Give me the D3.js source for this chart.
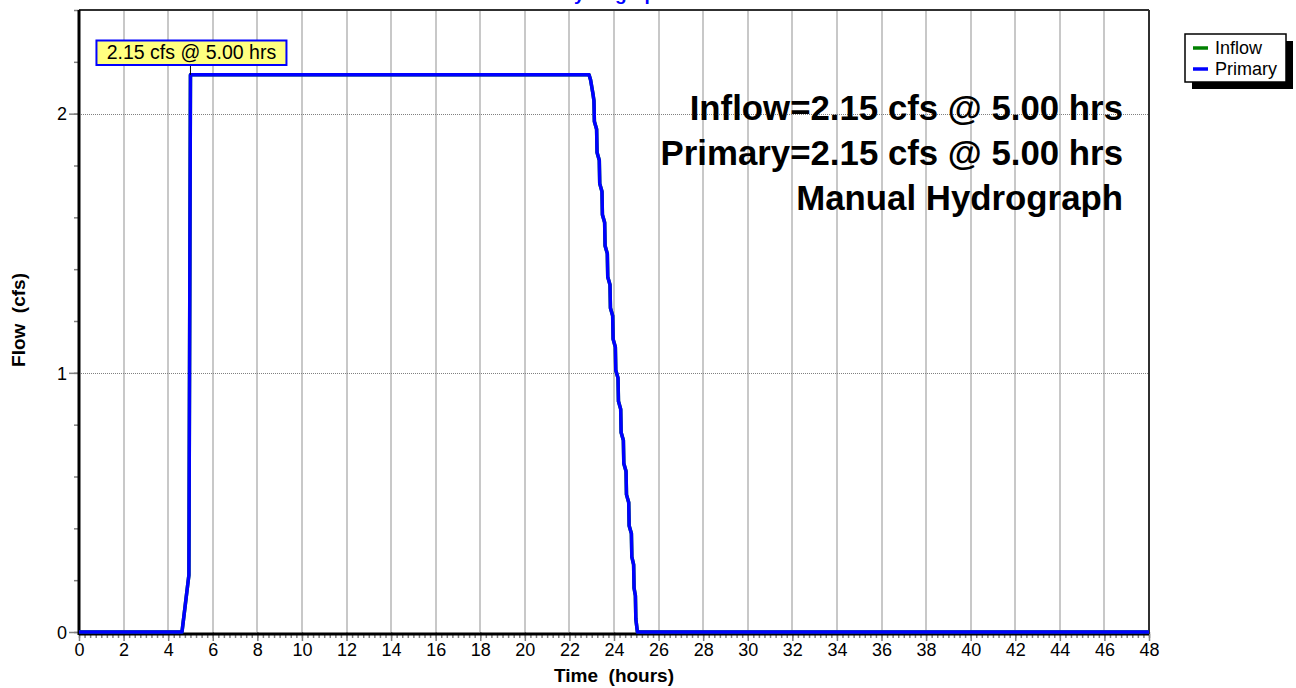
<!DOCTYPE html>
<html lang="en">

<head>
    <meta charset="UTF-8">
    <title>Hydrograph</title>
    <script src="https://d3js.org/d3.v7.min.js"></script>
    <style>
        body {
            margin: 0;
            background: #fff;
        }

        svg text {
            font-family: "Liberation Sans", Arial, sans-serif;
        }

        .grid-x line {
            stroke: #c8c8c8;
            stroke-width: 2;
            shape-rendering: crispEdges;
        }

        .grid-y line {
            stroke: #808080;
            stroke-width: 1;
            stroke-dasharray: 1, 1;
            shape-rendering: crispEdges;
        }

        .axis path {
            display: none;
        }

        .axis line {
            stroke: #808080;
            stroke-width: 1.5;
        }

        .axis text {
            font-size: 18px;
            fill: #000;
        }
    </style>
</head>

<body>

    <div id="chart"></div>

    <script>
        // hydrograph values (hours, cfs) - inflow and primary are the same
        var hours = [0, 4.62, 4.93, 5.00, 22.88, 22.95, 23.05, 23.10, 23.12, 23.22, 23.24, 23.34, 23.36, 23.46,
            23.48, 23.58, 23.60, 23.70, 23.72, 23.82, 23.84, 23.94, 23.96, 24.06, 24.08, 24.18, 24.20, 24.30,
            24.32, 24.42, 24.44, 24.54, 24.56, 24.66, 24.68, 24.78, 24.80, 24.88, 24.90, 24.96, 24.98, 25.05, 48];
        var inflowCfs = [0, 0, 0.22, 2.15, 2.15, 2.13, 2.08, 2.05, 1.97, 1.94, 1.85, 1.82, 1.73, 1.70,
            1.61, 1.58, 1.49, 1.46, 1.37, 1.34, 1.25, 1.22, 1.13, 1.10, 1.01, 0.98, 0.89, 0.86,
            0.77, 0.74, 0.65, 0.62, 0.53, 0.50, 0.41, 0.38, 0.29, 0.26, 0.17, 0.14, 0.05, 0, 0];
        var primaryCfs = [0, 0, 0.22, 2.15, 2.15, 2.13, 2.08, 2.05, 1.97, 1.94, 1.85, 1.82, 1.73, 1.70,
            1.61, 1.58, 1.49, 1.46, 1.37, 1.34, 1.25, 1.22, 1.13, 1.10, 1.01, 0.98, 0.89, 0.86,
            0.77, 0.74, 0.65, 0.62, 0.53, 0.50, 0.41, 0.38, 0.29, 0.26, 0.17, 0.14, 0.05, 0, 0];

        var xTicks = d3.range(0, 49, 2);
        var yTicks = [0, 1, 2];
        var seriesNames = ["Inflow", "Primary"];
        var seriesColors = ["#008000", "#0000ff"];
        var peakFlow = 2.15;
        var peakTime = 5.00;
        var summaryLines = ["Inflow=2.15 cfs @ 5.00 hrs", "Primary=2.15 cfs @ 5.00 hrs", "Manual Hydrograph"];

        var margin = { top: 10, right: 147, bottom: 56, left: 79 };
        var width = 1296 - margin.left - margin.right;
        var height = 688 - margin.top - margin.bottom;

        var x = d3.scaleLinear().domain([0, 48]).range([0, width]);
        var y = d3.scaleLinear().domain([0, 2.4]).range([height, 0]);

        var root = d3.select("#chart")
            .append("svg")
            .attr("width", 1296)
            .attr("height", 688);

        // title, mostly cut off above the plot
        root.append("text")
            .attr("x", margin.left + width / 2)
            .attr("y", 0)
            .attr("text-anchor", "middle")
            .attr("font-size", 19)
            .attr("font-weight", "bold")
            .attr("fill", "#0000ff")
            .text("Hydrograph");

        var svg = root.append("g")
            .attr("transform", "translate(" + margin.left + "," + margin.top + ")");

        // vertical grid lines
        svg.append("g")
            .attr("class", "grid-x")
            .selectAll("line")
            .data(xTicks.filter(function (d) { return d > 0 && d < 48; }))
            .enter().append("line")
            .attr("x1", function (d) { return x(d); })
            .attr("x2", function (d) { return x(d); })
            .attr("y1", 0)
            .attr("y2", height);

        // horizontal dotted grid lines
        svg.append("g")
            .attr("class", "grid-y")
            .selectAll("line")
            .data(yTicks.filter(function (d) { return d > 0; }))
            .enter().append("line")
            .attr("x1", 0)
            .attr("x2", width)
            .attr("y1", function (d) { return Math.round(y(d)) + 0.5; })
            .attr("y2", function (d) { return Math.round(y(d)) + 0.5; });

        // minor ticks
        svg.append("g")
            .attr("class", "axis")
            .attr("transform", "translate(0," + (height + 2) + ")")
            .call(d3.axisBottom(x).tickValues(d3.range(0, 48.01, 0.25)).tickSize(4).tickFormat(""));

        svg.append("g")
            .attr("class", "axis")
            .call(d3.axisLeft(y).tickValues(d3.range(0, 2.41, 0.2)).tickSize(5).tickFormat(""));

        // major ticks with labels
        svg.append("g")
            .attr("class", "axis")
            .attr("transform", "translate(0," + height + ")")
            .call(d3.axisBottom(x).tickValues(xTicks).tickSize(9).tickPadding(2).tickFormat(d3.format("d")));

        svg.append("g")
            .attr("class", "axis")
            .call(d3.axisLeft(y).tickValues(yTicks).tickSize(10).tickPadding(2).tickFormat(d3.format("d")))
            .selectAll("text")
            .attr("dy", "0.35em");

        // plot frame
        svg.append("line")
            .attr("x1", 0).attr("x2", width)
            .attr("y1", 0).attr("y2", 0)
            .attr("stroke", "#303030").attr("stroke-width", 2);
        svg.append("line")
            .attr("x1", width).attr("x2", width)
            .attr("y1", 0).attr("y2", height + 2)
            .attr("stroke", "#303030").attr("stroke-width", 2);
        svg.append("line")
            .attr("x1", 0).attr("x2", 0)
            .attr("y1", 0).attr("y2", height + 3)
            .attr("stroke", "#000").attr("stroke-width", 3);
        svg.append("line")
            .attr("x1", 0).attr("x2", width)
            .attr("y1", height + 2).attr("y2", height + 2)
            .attr("stroke", "#000").attr("stroke-width", 3);

        // series lines
        var flowLine = d3.line()
            .x(function (d) { return x(d[0]); })
            .y(function (d) { return y(d[1]); });

        [inflowCfs, primaryCfs].forEach(function (vals, i) {
            svg.append("path")
                .attr("d", flowLine(hours.map(function (h, j) { return [h, vals[j]]; })))
                .attr("fill", "none")
                .attr("stroke", seriesColors[i])
                .attr("stroke-width", 3.5)
                .attr("stroke-linejoin", "round");
        });

        // peak label
        var px = x(peakTime);
        svg.append("line")
            .attr("x1", px).attr("x2", px)
            .attr("y1", 55).attr("y2", y(peakFlow))
            .attr("stroke", "#000").attr("stroke-width", 1);
        svg.append("rect")
            .attr("x", px - 94).attr("y", 30.5)
            .attr("width", 190).attr("height", 24.5)
            .attr("fill", "#ffff80")
            .attr("stroke", "#0000ff")
            .attr("stroke-width", 2);
        svg.append("text")
            .attr("x", px + 1).attr("y", 49)
            .attr("text-anchor", "middle")
            .attr("font-size", 19.5)
            .text(peakFlow.toFixed(2) + " cfs @ " + peakTime.toFixed(2) + " hrs");

        // summary text
        svg.selectAll(".summary")
            .data(summaryLines)
            .enter().append("text")
            .attr("class", "summary")
            .attr("x", width - 26)
            .attr("y", function (d, i) { return 110 + i * 45; })
            .attr("text-anchor", "end")
            .attr("font-size", 34.8)
            .attr("font-weight", "bold")
            .text(function (d) { return d; });

        // axis titles
        root.append("text")
            .attr("x", margin.left + width / 2)
            .attr("y", 682)
            .attr("text-anchor", "middle")
            .attr("font-size", 19)
            .attr("font-weight", "bold")
            .style("white-space", "pre")
            .text("Time  (hours)");

        root.append("text")
            .attr("transform", "translate(25,320) rotate(-90)")
            .attr("text-anchor", "middle")
            .attr("font-size", 19)
            .attr("font-weight", "bold")
            .style("white-space", "pre")
            .text("Flow  (cfs)");

        // legend with drop shadow
        var legend = root.append("g").attr("transform", "translate(1185,34)");
        legend.append("rect")
            .attr("x", 7).attr("y", 7)
            .attr("width", 101).attr("height", 48)
            .attr("fill", "#000");
        legend.append("rect")
            .attr("x", 0).attr("y", 0)
            .attr("width", 101).attr("height", 48)
            .attr("fill", "#fff")
            .attr("stroke", "#000")
            .attr("stroke-width", 1.5);
        seriesNames.forEach(function (name, i) {
            legend.append("line")
                .attr("x1", 8).attr("x2", 23)
                .attr("y1", 14 + i * 21).attr("y2", 14 + i * 21)
                .attr("stroke", seriesColors[i])
                .attr("stroke-width", 3.5);
            legend.append("text")
                .attr("x", 30).attr("y", 20 + i * 21)
                .attr("font-size", 18)
                .text(name);
        });
    </script>

</body>

</html>
